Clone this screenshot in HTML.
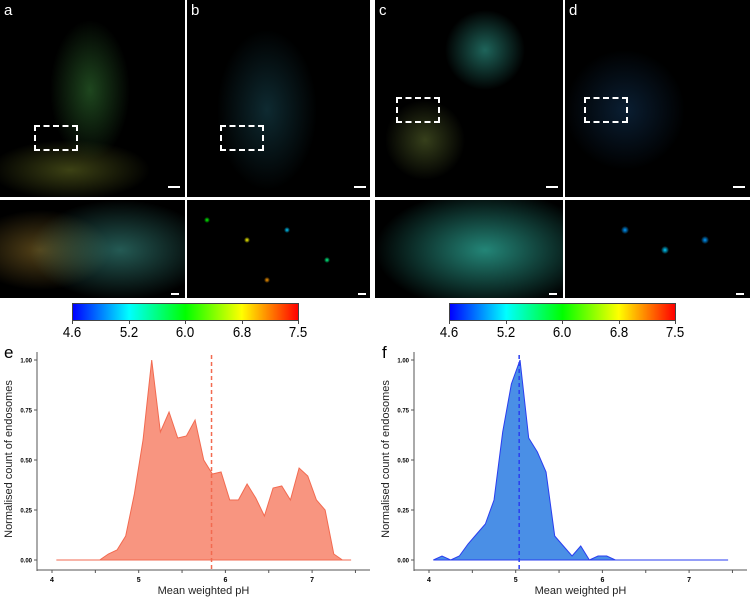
<!DOCTYPE html>
<html><head><meta charset="utf-8"><style>
body{margin:0;background:#fff;font-family:"Liberation Sans",sans-serif;}
#root{position:relative;width:750px;height:598px;overflow:hidden;background:#fff}
.img{position:absolute;background:#000;overflow:hidden}
.lbl{position:absolute;color:#fff;font-size:15px}
.plbl{position:absolute;color:#000;font-size:17px}
.sb{position:absolute;background:#fff;height:2px;width:12px}
.cb{position:absolute;height:18px;background:linear-gradient(to right,#0000ff,#00ffff 25%,#00ff00 50%,#ffff00 75%,#ff0000);border:1px solid #444;box-sizing:border-box}
.cbt{position:absolute;font-size:15px;color:#000;transform:translateX(-50%) scaleX(0.88);line-height:15px}
.cbm{position:absolute;width:1px;height:4px;background:#444}
</style></head><body><div id="root">
<div class="img" style="left:0;top:0;width:185px;height:197px;background:radial-gradient(ellipse 40px 70px at 90px 90px,rgba(60,140,60,.5),transparent),radial-gradient(ellipse 80px 30px at 70px 170px,rgba(120,130,40,.5),transparent),#000"></div>
<div class="img" style="left:187px;top:0;width:183px;height:197px;background:radial-gradient(ellipse 50px 80px at 80px 110px,rgba(40,120,140,.35),transparent),#000"></div>
<div class="img" style="left:375px;top:0;width:188px;height:197px;background:radial-gradient(ellipse 40px 40px at 110px 50px,rgba(60,200,180,.5),transparent),radial-gradient(ellipse 40px 40px at 50px 140px,rgba(120,140,60,.45),transparent),#000"></div>
<div class="img" style="left:565px;top:0;width:185px;height:197px;background:radial-gradient(ellipse 60px 60px at 60px 110px,rgba(40,120,200,.25),transparent),#000"></div>
<div class="img" style="left:0;top:200px;width:185px;height:98px;background:radial-gradient(ellipse 90px 50px at 120px 50px,rgba(60,150,140,.6),transparent),radial-gradient(ellipse 70px 40px at 40px 50px,rgba(140,110,40,.6),transparent),#000"></div>
<div class="img" style="left:187px;top:200px;width:183px;height:98px;background:radial-gradient(circle 3px at 20px 20px,#0f0,transparent),radial-gradient(circle 3px at 60px 40px,#ff0,transparent),radial-gradient(circle 3px at 100px 30px,#0cf,transparent),radial-gradient(circle 3px at 140px 60px,#0f8,transparent),radial-gradient(circle 3px at 80px 80px,#f90,transparent),#000"></div>
<div class="img" style="left:375px;top:200px;width:188px;height:98px;background:radial-gradient(ellipse 110px 60px at 110px 50px,rgba(50,190,170,.7),transparent),#000"></div>
<div class="img" style="left:565px;top:200px;width:185px;height:98px;background:radial-gradient(circle 4px at 60px 30px,#09f,transparent),radial-gradient(circle 4px at 100px 50px,#0cf,transparent),radial-gradient(circle 4px at 140px 40px,#09f,transparent),#000"></div>
<div class="lbl" style="left:4px;top:2px">a</div>
<div class="lbl" style="left:191px;top:2px">b</div>
<div class="lbl" style="left:379px;top:2px">c</div>
<div class="lbl" style="left:569px;top:2px">d</div>
<div style="position:absolute;left:34px;top:125px;width:40px;height:22px;border:2px dashed #fff"></div>
<div style="position:absolute;left:220px;top:125px;width:40px;height:22px;border:2px dashed #fff"></div>
<div style="position:absolute;left:396px;top:97px;width:40px;height:22px;border:2px dashed #fff"></div>
<div style="position:absolute;left:584px;top:97px;width:40px;height:22px;border:2px dashed #fff"></div>
<div class="sb" style="left:168px;top:186px"></div>
<div class="sb" style="left:354px;top:186px"></div>
<div class="sb" style="left:546px;top:186px"></div>
<div class="sb" style="left:733px;top:186px"></div>
<div class="sb" style="left:171px;top:293px;width:8px"></div>
<div class="sb" style="left:358px;top:293px;width:8px"></div>
<div class="sb" style="left:549px;top:293px;width:8px"></div>
<div class="sb" style="left:736px;top:293px;width:8px"></div>
<div class="cb" style="left:72px;top:303px;width:227px"></div>
<div class="cb" style="left:449px;top:303px;width:227px"></div>
<div id="cbticks"></div>
<svg id="charts" width="750" height="598" style="position:absolute;left:0;top:0"></svg>
<div class="plbl" style="left:4px;top:343px">e</div>
<div class="plbl" style="left:382px;top:343px">f</div>
</div>
<script>
const cbTicks=["4.6","5.2","6.0","6.8","7.5"];
const phX=[4.05,4.15,4.25,4.35,4.45,4.55,4.65,4.75,4.85,4.95,5.05,5.15,5.25,5.35,5.45,5.55,5.65,5.75,5.85,5.95,6.05,6.15,6.25,6.35,6.45,6.55,6.65,6.75,6.85,6.95,7.05,7.15,7.25,7.35,7.45];
const countsE=[0,0,0,0,0,0,0.03,0.05,0.12,0.33,0.6,1.0,0.64,0.74,0.61,0.62,0.70,0.50,0.43,0.44,0.30,0.30,0.38,0.31,0.22,0.36,0.37,0.30,0.46,0.42,0.30,0.25,0.03,0,0];
const countsF=[0,0.02,0,0.02,0.08,0.13,0.18,0.30,0.64,0.88,1.0,0.61,0.54,0.44,0.12,0.07,0.02,0.07,0,0.02,0.02,0,0,0,0,0,0,0,0,0,0,0,0,0,0];
const meanE=5.84, meanF=5.04;
const xTicks=[4,5,6,7];
const yTicks=[0,0.25,0.5,0.75,1.0];
const yTickLabels=["0.00","0.25","0.50","0.75","1.00"];
const NS="http://www.w3.org/2000/svg";
const cbd=document.getElementById('cbticks');
[72,449].forEach(x0=>{cbTicks.forEach((t,i)=>{const x=x0+i*226/4;
const d=document.createElement('div');d.className='cbt';


d.style.left=x+'px';d.style.top='325px';d.textContent=t;cbd.appendChild(d);
const m=document.createElement('div');m.className='cbm';


m.style.left=x+'px';m.style.top='320px';cbd.appendChild(m);});});
const svg=document.getElementById('charts');
function el(t,a,p){const e=document.createElementNS(NS,t);for(const k in a)e.setAttribute(k,a[k]);(p||svg).appendChild(e);return e;}
function chart(ox,axisL,axisR,counts,mean,fill,stroke,name){
 const sx=v=>ox+(v-4)*86.7, sy=v=>560-v*200;
 const g=el('g',{});
 
 
 let d='M'+sx(phX[0])+','+sy(0);
 phX.forEach((x,i)=>d+=' L'+sx(x)+','+sy(counts[i]));
 d+=' L'+sx(phX[phX.length-1])+','+sy(0)+' Z';
 const a=el('path',{d:d,fill:fill,stroke:stroke,'stroke-width':1},g);
 
 
 const m=el('line',{x1:sx(mean),x2:sx(mean),y1:355,y2:570,stroke:stroke,'stroke-width':1.5,'stroke-dasharray':'4,3'},g);
 
 
 el('line',{x1:axisL,x2:axisL,y1:352,y2:571,stroke:'#555','stroke-width':1},g);
 el('line',{x1:axisL,x2:axisR,y1:570,y2:570,stroke:'#555','stroke-width':1},g);
 yTicks.forEach((v,i)=>{el('line',{x1:axisL-3,x2:axisL,y1:sy(v),y2:sy(v),stroke:'#555'},g);
  const t=el('text',{x:axisL-5,y:sy(v)+2.5,'font-size':6,'font-weight':'bold','text-anchor':'end','font-family':'Liberation Sans'},g);t.textContent=yTickLabels[i];
  
  });
 for(let v=4;v<=7.5;v+=0.5){el('line',{x1:sx(v),x2:sx(v),y1:570,y2:573,stroke:'#555'},g);}
 xTicks.forEach(v=>{const t=el('text',{x:sx(v),y:582,'font-size':7,'font-weight':'bold','text-anchor':'middle','font-family':'Liberation Sans'},g);t.textContent=v;
  
  });
 const xt=el('text',{x:(axisL+axisR)/2,y:594,'font-size':11,'text-anchor':'middle','font-family':'Liberation Sans',fill:'#222'},g);xt.textContent='Mean weighted pH';
 
 
 const yt=el('text',{x:0,y:0,'font-size':11,'text-anchor':'middle','font-family':'Liberation Sans',fill:'#222',transform:'translate('+(axisL-25)+',459) rotate(-90)'},g);yt.textContent='Normalised count of endosomes';
 
 
}
chart(52,37,370,countsE,meanE,'#f89580','#f26a50','chart-e');
chart(429,414,747,countsF,meanF,'#4a8fe6','#2a3ef0','chart-f');
</script></body></html>
